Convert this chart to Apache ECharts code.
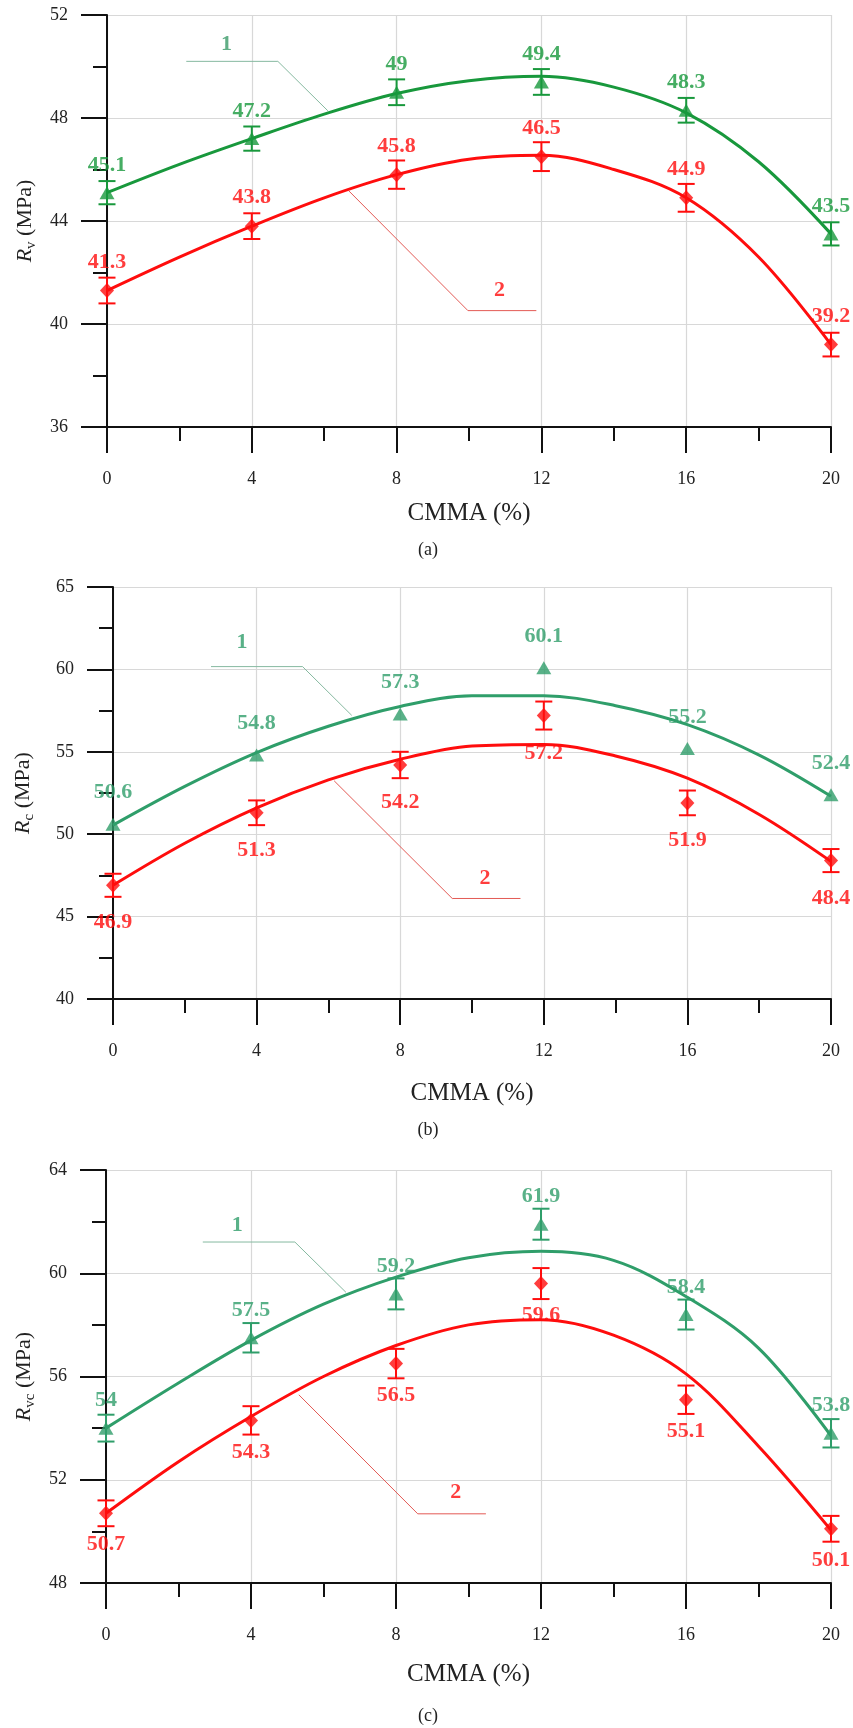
<!DOCTYPE html>
<html><head><meta charset="utf-8">
<script src="https://cdn.jsdelivr.net/npm/echarts@6/dist/echarts.min.js"></script>
<style>html,body{margin:0;padding:0;background:#fff}#c{width:853px;height:1728px}</style>
</head><body><div id="c"></div>
<script>
// ---------- data ----------
const cmma = [0, 4, 8, 12, 16, 20];
const curveX = [0, 2, 4, 6, 8, 10, 12, 14, 16, 18, 20];

// (a) Rv
const aGreen = [45.1, 47.2, 49, 49.4, 48.3, 43.5];
const aRed = [41.3, 43.8, 45.8, 46.5, 44.9, 39.2];
const aGreenErr = [0.45, 0.47, 0.5, 0.5, 0.48, 0.45];
const aRedErr = [0.5, 0.5, 0.55, 0.56, 0.54, 0.46];
const aGreenCurve = [45.1, 46.2, 47.2, 48.15, 48.95, 49.45, 49.62, 49.2, 48.2, 46.3, 43.5];
const aRedCurve = [41.3, 42.6, 43.8, 44.9, 45.8, 46.4, 46.55, 46.0, 44.9, 42.6, 39.2];

// (b) Rc
const bGreen = [50.6, 54.8, 57.3, 60.1, 55.2, 52.4];
const bRed = [46.9, 51.3, 54.2, 57.2, 51.9, 48.4];
const bRedErr = [0.7, 0.75, 0.8, 0.85, 0.75, 0.7];
const bGreenCurve = [50.55, 52.9, 54.95, 56.55, 57.75, 58.4, 58.4, 57.8, 56.65, 54.8, 52.3];
const bRedCurve = [46.9, 49.45, 51.6, 53.3, 54.55, 55.35, 55.45, 54.75, 53.4, 51.2, 48.35];

// (c) Rvc
const cGreen = [54, 57.5, 59.2, 61.9, 58.4, 53.8];
const cRed = [50.7, 54.3, 56.5, 59.6, 55.1, 50.1];
const cGreenErr = [0.52, 0.57, 0.6, 0.6, 0.58, 0.55];
const cRedErr = [0.5, 0.55, 0.57, 0.6, 0.55, 0.5];
const cGreenCurve = [54.0, 55.75, 57.4, 58.8, 59.85, 60.6, 60.85, 60.5, 59.1, 57.1, 53.7];
const cRedCurve = [50.7, 52.7, 54.45, 56.0, 57.2, 58.0, 58.2, 57.6, 56.1, 53.3, 50.05];

// annotation leader lines (in axis units)
const aLeader1 = [[2.19, 50.2], [4.72, 50.2], [6.10, 48.28]];
const aLeader2 = [[6.68, 45.17], [9.97, 40.52], [11.86, 40.52]];
const aTags = [[3.3, 50.85], [10.84, 41.29]];
const bLeader1 = [[2.73, 60.17], [5.28, 60.17], [6.65, 57.21]];
const bLeader2 = [[6.16, 53.24], [9.45, 46.1], [11.35, 46.1]];
const bTags = [[3.59, 61.65], [10.36, 47.35]];
const cLeader1 = [[2.67, 61.21], [5.21, 61.21], [6.62, 59.26]];
const cLeader2 = [[5.32, 55.29], [8.6, 50.68], [10.48, 50.68]];
const cTags = [[3.62, 61.85], [9.65, 51.51]];

const tagNames = ['1', '2'];
const captions = ['(a)', '(b)', '(c)'];
const xName = 'CMMA (%)';

// ---------- styles ----------
const FONT = '"Liberation Serif", "DejaVu Serif", serif';
const RED = '#ff0d0d';

const panels = [
  { green: '#18983c', tagGreen: '#3a9a68', grid: { left: 107, top: 15, right: 22, height: 412 },
    yMin: 36, yMax: 52, yInt: 4, yName: '{i|R}{s|v} (MPa)', yGap: 68,
    g: aGreen, r: aRed, gErr: aGreenErr, rErr: aRedErr, gc: aGreenCurve, rc: aRedCurve,
    l1: aLeader1, l2: aLeader2, tags: aTags, gPos: 'top', gDist: 10, rPos: 'top', rDist: 10,
    cap: 550, nameGap: 74 },
  { green: '#2f9e6a', tagGreen: '#2f9e6a', grid: { left: 113, top: 587, right: 22, height: 412 },
    yMin: 40, yMax: 65, yInt: 5, yName: '{i|R}{s|c} (MPa)', yGap: 76,
    g: bGreen, r: bRed, gErr: null, rErr: bRedErr, gc: bGreenCurve, rc: bRedCurve,
    l1: bLeader1, l2: bLeader2, tags: bTags, gPos: 'top', gDist: 14, rPos: 'bottom', rDist: 19,
    cap: 1130, nameGap: 82 },
  { green: '#2f9e6a', tagGreen: '#2f9e6a', grid: { left: 106, top: 1170, right: 22, height: 413 },
    yMin: 48, yMax: 64, yInt: 4, yName: '{i|R}{s|vc} (MPa)', yGap: 68,
    g: cGreen, r: cRed, gErr: cGreenErr, rErr: cRedErr, gc: cGreenCurve, rc: cRedCurve,
    l1: cLeader1, l2: cLeader2, tags: cTags, gPos: 'top', gDist: 10, rPos: 'bottom', rDist: 13,
    cap: 1716, nameGap: 79 }
];

function errSeries(i, vals, errs, color) {
  return {
    type: 'custom', xAxisIndex: i, yAxisIndex: i, silent: true, z: 3,
    data: cmma.map((x, k) => [x, vals[k] - errs[k], vals[k] + errs[k]]),
    encode: { x: 0, y: [1, 2] },
    renderItem: (params, api) => {
      const x = api.value(0);
      const lo = api.coord([x, api.value(1)]);
      const hi = api.coord([x, api.value(2)]);
      const hw = 8.5;
      const st = { stroke: color, lineWidth: 2 };
      return { type: 'group', children: [
        { type: 'line', shape: { x1: lo[0], y1: lo[1], x2: hi[0], y2: hi[1] }, style: st },
        { type: 'line', shape: { x1: lo[0] - hw, y1: lo[1], x2: lo[0] + hw, y2: lo[1] }, style: st },
        { type: 'line', shape: { x1: hi[0] - hw, y1: hi[1], x2: hi[0] + hw, y2: hi[1] }, style: st }
      ] };
    }
  };
}

const grids = [], xAxes = [], yAxes = [], series = [], graphics = [];
const axisLine = { show: true, onZero: false, lineStyle: { color: '#111', width: 2 } };
const split = { show: true, lineStyle: { color: '#d8d8d8', width: 1.2 } };

panels.forEach((p, i) => {
  grids.push(Object.assign({ containLabel: false }, p.grid));
  xAxes.push({
    type: 'value', gridIndex: i, min: 0, max: 20, interval: 4,
    axisLine: axisLine,
    axisTick: { show: true, inside: false, length: 26, lineStyle: { color: '#111', width: 2 } },
    minorTick: { show: true, splitNumber: 2, length: 14, lineStyle: { color: '#111', width: 2 } },
    splitLine: split,
    axisLabel: { margin: 43, fontSize: 18, fontFamily: FONT, color: '#222' },
    name: xName, nameLocation: 'middle', nameGap: p.nameGap,
    nameTextStyle: { fontSize: 25, fontFamily: FONT, color: '#222' }
  });
  yAxes.push({
    type: 'value', gridIndex: i, min: p.yMin, max: p.yMax, interval: p.yInt,
    axisLine: axisLine,
    axisTick: { show: true, inside: false, length: 26, lineStyle: { color: '#111', width: 2 } },
    minorTick: { show: true, splitNumber: 2, length: 14, lineStyle: { color: '#111', width: 2 } },
    splitLine: split,
    axisLabel: { margin: 39, fontSize: 18, fontFamily: FONT, color: '#222' },
    name: p.yName, nameLocation: 'middle', nameRotate: 90, nameGap: p.yGap,
    nameTextStyle: {
      fontSize: 22, fontFamily: FONT, color: '#222', lineHeight: 28,
      rich: {
        i: { fontSize: 22, fontStyle: 'italic', fontFamily: FONT, color: '#222', lineHeight: 28 },
        s: { fontSize: 15, fontFamily: FONT, color: '#222', verticalAlign: 'bottom', lineHeight: 16 }
      }
    }
  });

  // leader lines
  series.push({ type: 'line', xAxisIndex: i, yAxisIndex: i, data: p.l1, showSymbol: false, silent: true,
    lineStyle: { color: '#86b9a0', width: 1 }, z: 1, clip: false, animation: false });
  series.push({ type: 'line', xAxisIndex: i, yAxisIndex: i, data: p.l2, showSymbol: false, silent: true,
    lineStyle: { color: '#e35a55', width: 1 }, z: 1, clip: false, animation: false });
  // tag labels
  series.push({ type: 'scatter', xAxisIndex: i, yAxisIndex: i, symbolSize: 0, silent: true, clip: false,
    data: p.tags.map((t, k) => ({ value: t, name: tagNames[k],
      label: { color: k === 0 ? p.tagGreen : RED } })),
    label: { show: true, position: 'inside', formatter: '{b}', fontSize: 22, fontWeight: 'bold', fontFamily: FONT },
    z: 2 });

  // curves
  series.push({ type: 'line', xAxisIndex: i, yAxisIndex: i, smooth: 0.35, showSymbol: false,
    data: curveX.map((x, k) => [x, p.gc[k]]), lineStyle: { color: p.green, width: 3 }, z: 2, silent: true, clip: false });
  series.push({ type: 'line', xAxisIndex: i, yAxisIndex: i, smooth: 0.35, showSymbol: false,
    data: curveX.map((x, k) => [x, p.rc[k]]), lineStyle: { color: RED, width: 3 }, z: 2, silent: true, clip: false });

  // error bars
  if (p.gErr) series.push(errSeries(i, p.g, p.gErr, p.green));
  if (p.rErr) series.push(errSeries(i, p.r, p.rErr, RED));

  // points
  series.push({ type: 'scatter', xAxisIndex: i, yAxisIndex: i, symbol: 'triangle', symbolSize: [15, 13],
    itemStyle: { color: p.green }, clip: false, z: 4,
    data: cmma.map((x, k) => [x, p.g[k]]),
    label: { show: true, position: p.gPos, distance: p.gDist, formatter: (d) => String(d.value[1]),
      fontSize: 22, fontWeight: 'bold', fontFamily: FONT, color: p.green } });
  series.push({ type: 'scatter', xAxisIndex: i, yAxisIndex: i, symbol: 'diamond', symbolSize: [14, 15],
    itemStyle: { color: RED }, clip: false, z: 4,
    data: cmma.map((x, k) => [x, p.r[k]]),
    label: { show: true, position: p.rPos, distance: p.rDist, formatter: (d) => String(d.value[1]),
      fontSize: 22, fontWeight: 'bold', fontFamily: FONT, color: RED } });

  graphics.push({ type: 'text', x: 428, y: p.cap, style: { text: captions[i], fontSize: 18, fontFamily: FONT,
    fill: '#222', align: 'center', verticalAlign: 'middle' } });
});

const chart = echarts.init(document.getElementById('c'), null, { renderer: 'canvas' });
chart.setOption({
  animation: false,
  backgroundColor: '#fff',
  grid: grids, xAxis: xAxes, yAxis: yAxes, series: series, graphic: graphics
});
</script>
</body></html>
